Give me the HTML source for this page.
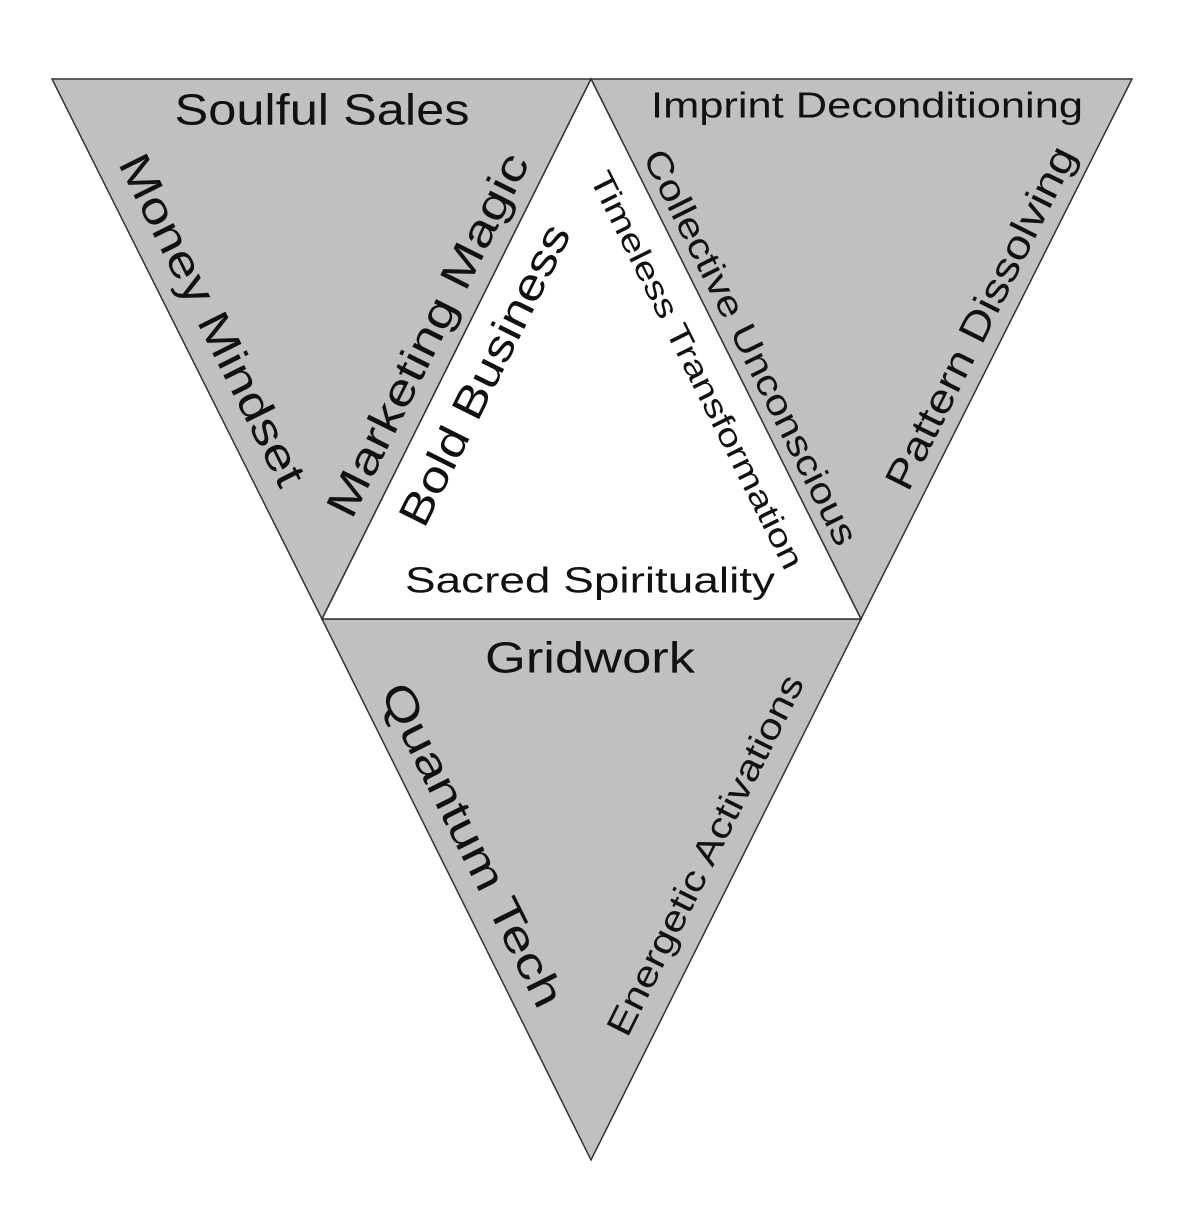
<!DOCTYPE html>
<html><head><meta charset="utf-8"><style>
html,body{margin:0;padding:0;background:#fff;}
svg{display:block}
text{font-family:"Liberation Sans",sans-serif;fill:#111;text-anchor:middle;dominant-baseline:central;}
</style></head><body>
<svg width="1200" height="1212" viewBox="0 0 1200 1212">
<g stroke="#333" stroke-width="1.5" stroke-linejoin="miter">
<polygon points="52,79 591,79 322,619" fill="#c0c0c0"/>
<polygon points="591,79 1132,79 861,619" fill="#c0c0c0"/>
<polygon points="322,619 861,619 591,1160" fill="#c0c0c0"/>
<polygon points="591,79 861,619 322,619" fill="#fff"/>
</g>
<text x="322" y="110" font-size="44" textLength="295" lengthAdjust="spacingAndGlyphs">Soulful Sales</text>
<text x="867" y="105" font-size="36" textLength="432" lengthAdjust="spacingAndGlyphs">Imprint Deconditioning</text>
<text font-size="44" textLength="365" lengthAdjust="spacingAndGlyphs" transform="translate(212,320) rotate(63.5)">Money Mindset</text>
<text font-size="44" textLength="400" lengthAdjust="spacingAndGlyphs" transform="translate(428,335) rotate(-63.5)">Marketing Magic</text>
<text font-size="44" textLength="331" lengthAdjust="spacingAndGlyphs" transform="translate(485,375) rotate(-63.5)">Bold Business</text>
<text font-size="32" textLength="440" lengthAdjust="spacingAndGlyphs" transform="translate(697,370) rotate(63.5)">Timeless Transformation</text>
<text font-size="36" textLength="437" lengthAdjust="spacingAndGlyphs" transform="translate(751,347) rotate(63.5)">Collective Unconscious</text>
<text font-size="40" textLength="378" lengthAdjust="spacingAndGlyphs" transform="translate(981,318) rotate(-63.5)">Pattern Dissolving</text>
<text x="590" y="580" font-size="36" textLength="370" lengthAdjust="spacingAndGlyphs">Sacred Spirituality</text>
<text x="590" y="658" font-size="44" textLength="210" lengthAdjust="spacingAndGlyphs">Gridwork</text>
<text font-size="44" textLength="356" lengthAdjust="spacingAndGlyphs" transform="translate(472,845) rotate(63.5)">Quantum Tech</text>
<text font-size="36" textLength="398" lengthAdjust="spacingAndGlyphs" transform="translate(705,855) rotate(-63.5)">Energetic Activations</text>
</svg>
</body></html>
